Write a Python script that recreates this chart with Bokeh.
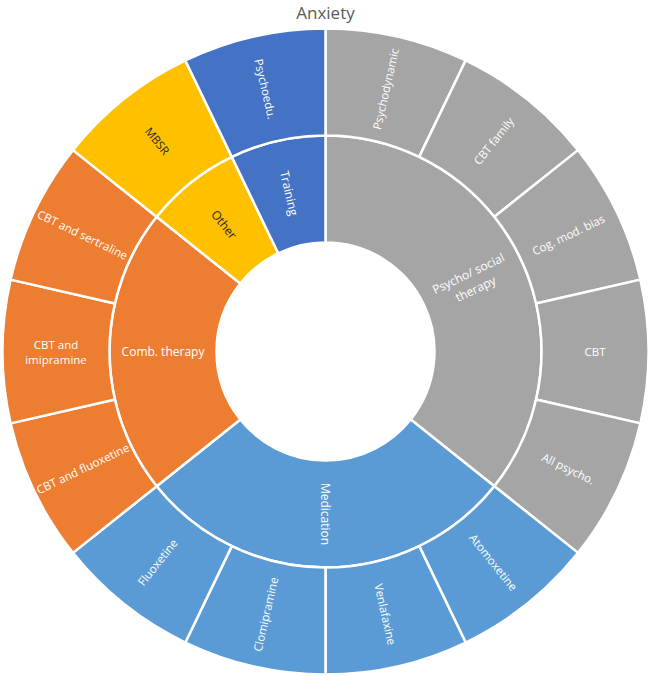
import math
from bokeh.plotting import figure
from bokeh.models import ColumnDataSource, Label
from bokeh.core.properties import value
from bokeh.embed import file_html
from bokeh.resources import INLINE

# ---- data ----
title_text = "Anxiety"
groups = ["Psycho/ social therapy", "Medication", "Comb. therapy", "Other", "Training"]
group_labels = ["Psycho/ social\ntherapy", "Medication", "Comb. therapy", "Other", "Training"]
group_colors = ["#A5A5A5", "#5B9BD5", "#ED7D31", "#FFC000", "#4472C4"]
group_text_colors = ["white", "white", "white", "#262626", "white"]

leaf_labels = ["Psychodynamic", "CBT family", "Cog. mod. bias", "CBT", "All psycho.",
               "Atomoxetine", "Venlafaxine", "Clomipramine", "Fluoxetine",
               "CBT and fluoxetine", "CBT and\nimipramine", "CBT and sertraline",
               "MBSR", "Psychoedu."]
leaf_parents = ["Psycho/ social therapy"] * 5 + ["Medication"] * 4 + \
               ["Comb. therapy"] * 3 + ["Other", "Training"]
leaf_values = [1, 1, 1, 1, 1, 1, 1, 1, 1, 1, 1, 1, 1, 1]

# ---- geometry (1 data unit = 1 px) ----
W, H = 649, 676
CX, CY = 325, 351
R_HOLE, R_MID, R_OUT = 109, 216, 323
FONT = "Open Sans"

total = float(sum(leaf_values))


def text_angle(theta_deg):
    # theta measured clockwise from 12 o'clock
    if theta_deg <= 180.0001:
        a = 90 - theta_deg
    else:
        a = 270 - theta_deg
    return math.radians(a)


# leaves
l_start, l_end, l_col, l_tx, l_ty, l_ang, l_tcol = [], [], [], [], [], [], []
cum = 0.0
for lab, par, v in zip(leaf_labels, leaf_parents, leaf_values):
    t1 = cum / total * 360.0
    cum += v
    t2 = cum / total * 360.0
    gi = groups.index(par)
    l_start.append(math.radians(90 - t2))
    l_end.append(math.radians(90 - t1))
    l_col.append(group_colors[gi])
    l_tcol.append(group_text_colors[gi])
    tm = (t1 + t2) / 2
    rm = (R_MID + R_OUT) / 2
    l_tx.append(rm * math.sin(math.radians(tm)))
    l_ty.append(rm * math.cos(math.radians(tm)))
    l_ang.append(text_angle(tm))

# groups
g_start, g_end, g_tx, g_ty, g_ang = [], [], [], [], []
cum = 0.0
for g in groups:
    gv = sum(v for v, p in zip(leaf_values, leaf_parents) if p == g)
    t1 = cum / total * 360.0
    cum += gv
    t2 = cum / total * 360.0
    g_start.append(math.radians(90 - t2))
    g_end.append(math.radians(90 - t1))
    tm = (t1 + t2) / 2
    rm = (R_HOLE + R_MID) / 2
    g_tx.append(rm * math.sin(math.radians(tm)))
    g_ty.append(rm * math.cos(math.radians(tm)))
    g_ang.append(text_angle(tm))

p = figure(width=W, height=H, x_range=(-CX, W - CX), y_range=(-(H - CY), CY),
           output_backend="svg", toolbar_location=None, min_border=0,
           match_aspect=False)
p.axis.visible = False
p.grid.visible = False
p.outline_line_color = None
p.background_fill_color = "white"
p.border_fill_color = "white"

leaf_src = ColumnDataSource(dict(s=l_start, e=l_end, c=l_col, x=l_tx, y=l_ty,
                                 a=l_ang, t=leaf_labels, tc=l_tcol))
grp_src = ColumnDataSource(dict(s=g_start, e=g_end, c=group_colors, x=g_tx, y=g_ty,
                                a=g_ang, t=group_labels, tc=group_text_colors))

p.annular_wedge(x=0, y=0, inner_radius=R_HOLE, outer_radius=R_MID,
                start_angle="s", end_angle="e", fill_color="c",
                line_color="white", line_width=2.5, source=grp_src)
p.annular_wedge(x=0, y=0, inner_radius=R_MID, outer_radius=R_OUT,
                start_angle="s", end_angle="e", fill_color="c",
                line_color="white", line_width=2.5, source=leaf_src)

p.text(x="x", y="y", text="t", angle="a", text_color="tc", source=leaf_src,
       text_font=value(FONT), text_font_size="11.5px", text_align="center",
       text_baseline="middle", text_line_height=1.0)
p.text(x="x", y="y", text="t", angle="a", text_color="tc", source=grp_src,
       text_font=value(FONT), text_font_size="12px", text_align="center",
       text_baseline="middle", text_line_height=1.0)

p.add_layout(Label(x=0, y=CY - 12, text=title_text, text_align="center",
                   text_baseline="middle", text_font=FONT,
                   text_font_size="17px", text_color="#595959"))

open("out.html", "w").write(file_html(p, INLINE))
